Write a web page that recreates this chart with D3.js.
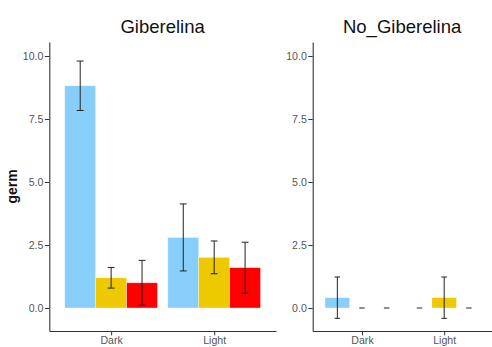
<!DOCTYPE html>
<html>
<head>
<meta charset="utf-8">
<script src="https://cdn.jsdelivr.net/npm/d3@7"></script>
<style>
  html, body { margin: 0; padding: 0; background: #fff; }
  svg { display: block; font-family: "Liberation Sans", Arial, sans-serif; }
</style>
</head>
<body>
<svg id="chart" width="492" height="347"></svg>
<script>
// Germination means and standard errors, by light condition and treatment group
const conditions = ["Dark", "Light"];
const groups = ["A", "B", "C"];
const groupColors = ["#87CEFA", "#EEC900", "#FF0000"];
const yTicks = [0, 2.5, 5, 7.5, 10];

const giberelinaMean = [[8.82, 1.20, 1.00], [2.80, 2.01, 1.60]];
const giberelinaSE   = [[0.98, 0.41, 0.89], [1.33, 0.65, 1.01]];
const noGiberelinaMean = [[0.41, 0, 0], [0, 0.41, 0]];
const noGiberelinaSE   = [[0.82, 0, 0], [0, 0.82, 0]];

const panels = [
  { title: "Giberelina", mean: giberelinaMean, se: giberelinaSE, left: 49.3, right: 276, yTitle: true },
  { title: "No_Giberelina", mean: noGiberelinaMean, se: noGiberelinaSE, left: 312.7, right: 493.5, yTitle: false }
];

const svg = d3.select("#chart");
const plotTop = 42, plotBottom = 331;
const y = d3.scaleLinear().domain([-0.913, 10.556]).range([plotBottom, plotTop]);
const axisColor = "#333333";
const labelColor = "#555555";

panels.forEach(p => {
  const g = svg.append("g");
  // discrete x positions with a 0.6 expansion on each side
  const xc = d3.scaleLinear().domain([0.4, 2.6]).range([p.left, p.right]);
  const unit = xc(2) - xc(1);
  const dodge = 0.9, barW = dodge / groups.length;

  const rows = [];
  conditions.forEach((c, i) => {
    groups.forEach((gr, j) => {
      const center = (i + 1) - dodge / 2 + barW * (j + 0.5);
      rows.push({ cond: c, group: gr, j, center, mean: p.mean[i][j], se: p.se[i][j] });
    });
  });

  // bars
  g.selectAll("rect.bar").data(rows.filter(d => d.mean !== 0)).join("rect")
    .attr("class", "bar")
    .attr("x", d => xc(d.center - barW / 2))
    .attr("width", barW * unit)
    .attr("y", d => y(Math.max(0, d.mean)))
    .attr("height", d => Math.abs(y(0) - y(d.mean)))
    .attr("fill", d => groupColors[d.j])
    .attr("stroke", "rgba(255,255,255,0.6)")
    .attr("stroke-width", 0.6);

  // error bars
  const capHalf = (0.2 / groups.length) * unit / 2;
  const eb = g.selectAll("g.err").data(rows).join("g").attr("class", "err")
    .attr("stroke", "#222").attr("stroke-width", 1).attr("fill", "none");
  eb.filter(d => d.se > 0).append("line")
    .attr("x1", d => xc(d.center)).attr("x2", d => xc(d.center))
    .attr("y1", d => y(d.mean + d.se)).attr("y2", d => y(d.mean - d.se));
  eb.append("line")
    .attr("x1", d => xc(d.center) - capHalf).attr("x2", d => xc(d.center) + capHalf)
    .attr("y1", d => y(d.mean + d.se)).attr("y2", d => y(d.mean + d.se));
  eb.filter(d => d.se > 0).append("line")
    .attr("x1", d => xc(d.center) - capHalf).attr("x2", d => xc(d.center) + capHalf)
    .attr("y1", d => y(d.mean - d.se)).attr("y2", d => y(d.mean - d.se));

  // y axis
  const yAxis = d3.axisLeft(y).tickValues(yTicks).tickFormat(d3.format(".1f")).tickSizeInner(4.4).tickSizeOuter(0).tickPadding(1.5);
  const ya = g.append("g").attr("transform", `translate(${p.left},0)`).call(yAxis);
  ya.select(".domain").attr("stroke", axisColor).attr("stroke-width", 1.1);
  ya.selectAll(".tick line").attr("stroke", axisColor);
  ya.selectAll(".tick text").attr("fill", labelColor).attr("font-size", "10.6px")
    .attr("font-family", "Liberation Sans, Arial, sans-serif");

  // x axis
  const xAxis = d3.axisBottom(xc).tickValues([1, 2]).tickFormat(d => conditions[d - 1]).tickSizeInner(4.4).tickSizeOuter(0).tickPadding(1.5);
  const xa = g.append("g").attr("transform", `translate(0,${plotBottom})`).call(xAxis);
  xa.select(".domain").attr("stroke", axisColor).attr("stroke-width", 1.1);
  xa.selectAll(".tick line").attr("stroke", axisColor);
  xa.selectAll(".tick text").attr("fill", labelColor).attr("font-size", "10.6px")
    .attr("font-family", "Liberation Sans, Arial, sans-serif");

  // panel title
  g.append("text")
    .attr("x", (p.left + p.right) / 2 + (p.yTitle ? 0 : -1))
    .attr("y", 33.3)
    .attr("text-anchor", "middle")
    .attr("font-size", "18.5px")
    .attr("fill", "#111")
    .text(p.title);

  if (p.yTitle) {
    g.append("text")
      .attr("transform", `translate(17,${(plotTop + plotBottom) / 2}) rotate(-90)`)
      .attr("text-anchor", "middle")
      .attr("font-size", "14px")
      .attr("font-weight", "bold")
      .attr("fill", "#111")
      .text("germ");
  }
});
</script>
</body>
</html>
